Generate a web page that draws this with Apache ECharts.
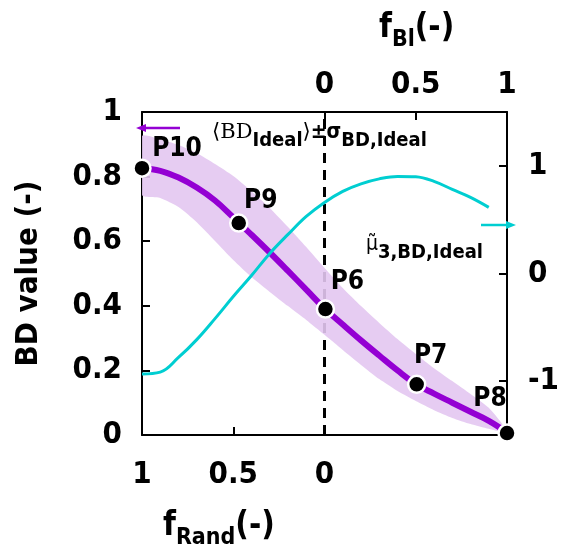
<!DOCTYPE html>
<html>
<head>
<meta charset="utf-8">
<script src="https://cdn.jsdelivr.net/npm/echarts@6/dist/echarts.min.js"></script>
<style>
  html, body { margin: 0; padding: 0; background: #fff; }
  #chart { width: 562px; height: 549px; }
</style>
</head>
<body>
<div id="chart"></div>
<script>
// position along the shared x axis: 0..1 is f_Rand (1 -> 0), 1..2 is f_Bl (0 -> 1)
const xGrid = [0, 0.1, 0.2, 0.3, 0.4, 0.5, 0.6, 0.7, 0.8, 0.9, 1.0, 1.1, 1.2, 1.3, 1.4, 1.5, 1.6, 1.7, 1.8, 1.9, 2.0];
const bdMean = [0.826, 0.818, 0.797, 0.766, 0.726, 0.674, 0.620, 0.565, 0.508, 0.450, 0.392, 0.342, 0.293, 0.246, 0.200, 0.158, 0.128, 0.100, 0.072, 0.044, 0.008];
const bdUpper = [0.926, 0.916, 0.898, 0.873, 0.839, 0.802, 0.755, 0.703, 0.644, 0.582, 0.517, 0.455, 0.399, 0.347, 0.297, 0.251, 0.207, 0.167, 0.127, 0.084, 0.015];
const bdLower = [0.743, 0.734, 0.706, 0.659, 0.601, 0.542, 0.489, 0.443, 0.399, 0.356, 0.310, 0.263, 0.217, 0.173, 0.136, 0.105, 0.077, 0.053, 0.034, 0.019, 0.006];

const cyanX = [0, 0.1, 0.2, 0.3, 0.4, 0.5, 0.6, 0.7, 0.8, 0.9, 1.0, 1.1, 1.2, 1.3, 1.4, 1.5, 1.6, 1.7, 1.8, 1.9];
const mu3 = [-0.933, -0.916, -0.78, -0.614, -0.419, -0.214, -0.019, 0.186, 0.363, 0.53, 0.66, 0.763, 0.833, 0.879, 0.902, 0.898, 0.856, 0.781, 0.707, 0.614];

const pointNames = ['P10', 'P9', 'P6', 'P7', 'P8'];
const pointX = [0, 0.53, 1.005, 1.505, 2.0];
const pointY = [0.826, 0.656, 0.39, 0.157, 0.006];

const fRandTickPos = [0, 0.5, 1];
const fRandTicks = ['1', '0.5', '0'];
const fBlTickPos = [1, 1.5, 2];
const fBlTicks = ['0', '0.5', '1'];
const rightTicks = [-1, 0, 1];
const splitPos = 1; // where f_Rand = 0 meets f_Bl = 0

// label placement around each marker
const labelOffsets = [[35, -19], [22, -22], [22, -27], [14, -28], [-17, -34]];

const PURPLE = '#9400D3';
const BAND = '#E3C6F1';
const CYAN = '#00CED1';
const KEY_PURPLE = '#7B30B0';
const FONT = "'DejaVu Sans Condensed', 'DejaVu Sans'";

const chart = echarts.init(document.getElementById('chart'));

const tickFont = { fontFamily: FONT, fontWeight: 'bold', fontSize: 31, color: '#000' };
const axisLine = { show: true, onZero: false, lineStyle: { color: '#000', width: 2 } };
const tickStyle = { color: '#000', width: 2 };

const titleRich = {
  f: { fontFamily: FONT, fontWeight: 'bold', fontSize: 33, color: '#000', verticalAlign: 'bottom', padding: [0, 0, 7, 0] },
  s: { fontFamily: FONT, fontWeight: 'bold', fontSize: 23, color: '#000', verticalAlign: 'bottom' },
};

const option = {
  animation: false,
  grid: { left: 142, right: 53, top: 112, bottom: 114 },
  xAxis: [
    {
      type: 'value', position: 'bottom', min: 0, max: 2,
      axisLine: axisLine,
      axisTick: { inside: true, length: 8, lineStyle: tickStyle, customValues: fRandTickPos },
      axisLabel: Object.assign({ margin: 24, customValues: fRandTickPos,
        formatter: (v) => fRandTicks[fRandTickPos.indexOf(v)] }, tickFont),
      splitLine: { show: false },
    },
    {
      type: 'value', position: 'top', min: 0, max: 2,
      axisLine: axisLine,
      axisTick: { inside: true, length: 8, lineStyle: tickStyle, customValues: fBlTickPos },
      axisLabel: Object.assign({ margin: 12, customValues: fBlTickPos,
        formatter: (v) => fBlTicks[fBlTickPos.indexOf(v)] }, tickFont),
      splitLine: { show: false },
    },
  ],
  yAxis: [
    {
      type: 'value', position: 'left', min: 0, max: 1, interval: 0.2,
      axisLine: axisLine,
      axisTick: { inside: true, length: 8, lineStyle: tickStyle },
      axisLabel: Object.assign({ margin: 20, padding: [8, 0, 0, 0] }, tickFont),
      splitLine: { show: false },
      name: 'BD value (-)',
      nameLocation: 'middle',
      nameGap: 98,
      nameTextStyle: { fontFamily: FONT, fontWeight: 'bold', fontSize: 31, color: '#000' },
    },
    {
      type: 'value', position: 'right', min: -1.5, max: 1.5,
      axisLine: axisLine,
      axisTick: { inside: true, length: 8, lineStyle: tickStyle, customValues: rightTicks },
      axisLabel: Object.assign({ margin: 21, padding: [6, 0, 0, 0], customValues: rightTicks }, tickFont),
      splitLine: { show: false },
    },
  ],
  series: [
    {
      // dashed divider between the f_Rand and f_Bl halves
      type: 'line', name: 'divider', z: 1, symbol: 'none', silent: true,
      lineStyle: { color: '#000', width: 3, type: [10, 7] },
      data: [[splitPos, 0], [splitPos, 1]],
    },
    {
      // ±σ band as one polygon: upper edge forward, lower edge back
      type: 'custom', name: 'band', z: 2, clip: true, silent: true,
      data: [[0, 0]],
      renderItem: (params, api) => {
        const pts = [];
        xGrid.forEach((x, i) => pts.push(api.coord([x, bdUpper[i]])));
        for (let i = xGrid.length - 1; i >= 0; i--) pts.push(api.coord([xGrid[i], bdLower[i]]));
        return { type: 'polygon', shape: { points: pts, smooth: 0.2 }, style: { fill: BAND, opacity: 0.9 } };
      },
    },
    {
      type: 'line', name: 'mean', smooth: 0.4, symbol: 'none', z: 3,
      lineStyle: { color: PURPLE, width: 6 },
      data: xGrid.map((x, i) => [x, bdMean[i]]),
    },
    {
      type: 'line', name: 'mu3', yAxisIndex: 1, smooth: 0.4, symbol: 'none', z: 4,
      lineStyle: { color: CYAN, width: 3 },
      data: cyanX.map((x, i) => [x, mu3[i]]),
    },
    {
      type: 'scatter', name: 'points', z: 6,
      symbolSize: 17,
      itemStyle: { color: '#000', borderColor: '#fff', borderWidth: 2.5, opacity: 1 },
      data: pointX.map((x, i) => ({
        value: [x, pointY[i]],
        name: pointNames[i],
        label: { offset: labelOffsets[i] },
      })),
      label: {
        show: true, position: 'inside', formatter: (p) => p.name,
        fontFamily: FONT, fontWeight: 'bold', fontSize: 26, color: '#000',
      },
    },
  ],
  graphic: [
    // purple key: arrow towards the left axis + text
    { type: 'line', shape: { x1: 180, y1: 128, x2: 143, y2: 128 }, style: { stroke: PURPLE, lineWidth: 2.5 }, z: 10 },
    { type: 'polygon', shape: { points: [[136, 128], [146, 124], [146, 132]] }, style: { fill: PURPLE }, z: 10 },
    {
      type: 'text', left: 212, top: 122, z: 10,
      style: {
        text: '{m|⟨BD}{s|Ideal}{m|⟩}{b|±σ}{s|BD,Ideal}',
        rich: {
          m: { fontFamily: 'DejaVu Serif', fontSize: 21, color: KEY_PURPLE, verticalAlign: 'bottom', padding: [0, 0, 8, 0] },
          b: { fontFamily: FONT, fontWeight: 'bold', fontSize: 21, color: KEY_PURPLE, verticalAlign: 'bottom', padding: [0, 0, 8, 0] },
          s: { fontFamily: FONT, fontWeight: 'bold', fontSize: 20, color: KEY_PURPLE, verticalAlign: 'bottom' },
        },
      },
    },
    // cyan key: arrow towards the right axis + text
    { type: 'line', shape: { x1: 481, y1: 225, x2: 508, y2: 225 }, style: { stroke: CYAN, lineWidth: 2.5 }, z: 10 },
    { type: 'polygon', shape: { points: [[516, 225], [506, 221], [506, 229]] }, style: { fill: CYAN }, z: 10 },
    {
      type: 'text', left: 366, top: 234, z: 10,
      style: {
        text: '{m|μ̃}{s|3,BD,Ideal}',
        rich: {
          m: { fontFamily: FONT, fontSize: 21, color: CYAN, verticalAlign: 'bottom', padding: [0, 0, 8, 0] },
          s: { fontFamily: FONT, fontWeight: 'bold', fontSize: 20, color: CYAN, verticalAlign: 'bottom' },
        },
      },
    },
    // axis titles
    { type: 'text', left: 379, top: 12, z: 10, style: { text: '{f|f}{s|Bl}{f|(-)}', rich: titleRich } },
    { type: 'text', left: 163, top: 510, z: 10, style: { text: '{f|f}{s|Rand}{f|(-)}', rich: titleRich } },
  ],
};

chart.setOption(option);
</script>
</body>
</html>
